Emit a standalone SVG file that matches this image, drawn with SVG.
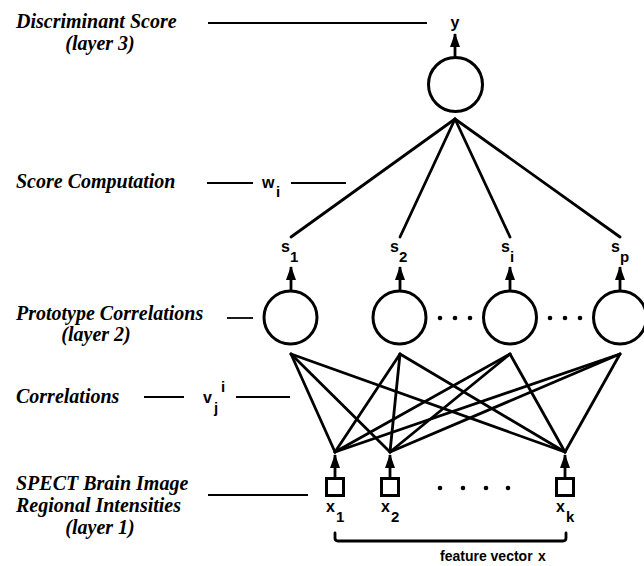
<svg xmlns="http://www.w3.org/2000/svg" width="644" height="566" viewBox="0 0 644 566">
<defs>
<style>
.lbl{font-family:"Liberation Serif","Times New Roman",serif;font-weight:bold;font-style:italic;font-size:20px;fill:#000}
.sym{font-family:"Liberation Sans",Arial,sans-serif;font-weight:bold;font-size:16px;fill:#000}
.sub{font-family:"Liberation Sans",Arial,sans-serif;font-weight:bold;font-size:15px;fill:#000}
.node{fill:none;stroke:#000;stroke-width:3}
.edge{stroke:#000;stroke-width:2.8;fill:none;stroke-linecap:round}
.arr{stroke:#000;stroke-width:2.8;fill:none;stroke-linecap:butt}
.guide{stroke:#000;stroke-width:1.8;fill:none}
.dot{fill:#000}
</style>
<marker id="ah" viewBox="0 0 14 10" refX="13" refY="5" markerWidth="14" markerHeight="10" markerUnits="userSpaceOnUse" orient="auto">
<path d="M0,0 L14,5 L0,10 Z" fill="#000"/>
</marker>
</defs>
<rect width="644" height="566" fill="#fff"/>

<g id="labels">
<text class="lbl" x="16" y="28">Discriminant Score</text>
<text class="lbl" x="100" y="50" text-anchor="middle">(layer 3)</text>
<text class="lbl" x="16" y="188">Score Computation</text>
<text class="lbl" x="16" y="320">Prototype Correlations</text>
<text class="lbl" x="96" y="341" text-anchor="middle">(layer 2)</text>
<text class="lbl" x="16" y="403">Correlations</text>
<text class="lbl" x="16" y="490">SPECT Brain Image</text>
<text class="lbl" x="16" y="512">Regional Intensities</text>
<text class="lbl" x="100" y="534" text-anchor="middle">(layer 1)</text>
</g>

<g id="guides">
<line class="guide" x1="208" y1="23" x2="427" y2="23"/>
<line class="guide" x1="207" y1="183" x2="253" y2="183"/>
<text class="sym" x="262" y="188">w</text><text class="sub" x="276" y="197">i</text>
<line class="guide" x1="291" y1="183" x2="346" y2="183"/>
<line class="guide" x1="227" y1="318" x2="253" y2="318"/>
<line class="guide" x1="144" y1="397" x2="184" y2="397"/>
<text class="sym" x="203" y="403">v</text><text class="sub" x="214" y="413">j</text><text class="sub" x="221" y="392">i</text>
<line class="guide" x1="236" y1="397" x2="290" y2="397"/>
<line class="guide" x1="208" y1="495" x2="308" y2="495"/>
</g>

<g id="node-out">
<circle class="node" cx="455.5" cy="84.5" r="27"/>
<text class="sym" x="455" y="28" text-anchor="middle">y</text>
</g>

<g id="node-s1">
<circle class="node" cx="290.5" cy="317.5" r="26.5"/>
<text class="sym" x="281" y="252">s</text><text class="sub" x="290" y="262">1</text>
</g>
<g id="node-s2">
<circle class="node" cx="399.5" cy="317.5" r="26.5"/>
<text class="sym" x="390" y="252">s</text><text class="sub" x="399" y="262">2</text>
</g>
<g id="node-si">
<circle class="node" cx="510" cy="317.5" r="26.5"/>
<text class="sym" x="501" y="252">s</text><text class="sub" x="510" y="262">i</text>
</g>
<g id="node-sp">
<circle class="node" cx="620" cy="317.5" r="26.5"/>
<text class="sym" x="611" y="252">s</text><text class="sub" x="620" y="262">p</text>
</g>
<g id="dots-layer2">
<circle class="dot" cx="440" cy="318" r="2.3"/><circle class="dot" cx="455" cy="318" r="2.3"/><circle class="dot" cx="470" cy="318" r="2.3"/>
<circle class="dot" cx="550" cy="318" r="2.3"/><circle class="dot" cx="565" cy="318" r="2.3"/><circle class="dot" cx="580" cy="318" r="2.3"/>
</g>

<g id="node-x1">
<rect class="node" x="326.5" y="478.5" width="17" height="17"/>
<text class="sym" x="326" y="512">x</text><text class="sub" x="336" y="522">1</text>
</g>
<g id="node-x2">
<rect class="node" x="381.5" y="478.5" width="17" height="17"/>
<text class="sym" x="381" y="512">x</text><text class="sub" x="391" y="522">2</text>
</g>
<g id="node-xk">
<rect class="node" x="556.5" y="478.5" width="17" height="17"/>
<text class="sym" x="556" y="512">x</text><text class="sub" x="566" y="522">k</text>
</g>
<g id="dots-layer1">
<circle class="dot" cx="440" cy="488" r="2.3"/><circle class="dot" cx="463" cy="488" r="2.3"/><circle class="dot" cx="486" cy="488" r="2.3"/><circle class="dot" cx="508" cy="488" r="2.3"/>
</g>

<g id="feature-vector">
<path class="edge" d="M335,533 V538 Q335,541 338,541 H563 Q566,541 566,538 V533"/>
<text class="sym" x="440" y="561" style="font-size:14px">feature vector</text>
<text class="sym" x="538" y="561" style="font-size:14px">x</text>
</g>

<g id="connectors">
<line class="arr" x1="455" y1="57" x2="455" y2="34" marker-end="url(#ah)"/>
<line class="arr" x1="291" y1="290" x2="291" y2="267" marker-end="url(#ah)"/>
<line class="arr" x1="400" y1="290" x2="400" y2="267" marker-end="url(#ah)"/>
<line class="arr" x1="510" y1="290" x2="510" y2="267" marker-end="url(#ah)"/>
<line class="arr" x1="620" y1="290" x2="620" y2="267" marker-end="url(#ah)"/>
<line class="arr" x1="335" y1="477" x2="335" y2="455" marker-end="url(#ah)"/>
<line class="arr" x1="390" y1="477" x2="390" y2="455" marker-end="url(#ah)"/>
<line class="arr" x1="565" y1="477" x2="565" y2="455" marker-end="url(#ah)"/>

<line class="edge" x1="455" y1="119" x2="291" y2="237"/>
<line class="edge" x1="455" y1="119" x2="400" y2="237"/>
<line class="edge" x1="455" y1="119" x2="510" y2="237"/>
<line class="edge" x1="455" y1="119" x2="620" y2="237"/>

<line class="edge" x1="291" y1="354" x2="335" y2="452"/>
<line class="edge" x1="291" y1="354" x2="390" y2="452"/>
<line class="edge" x1="291" y1="354" x2="565" y2="452"/>
<line class="edge" x1="400" y1="354" x2="335" y2="452"/>
<line class="edge" x1="400" y1="354" x2="390" y2="452"/>
<line class="edge" x1="400" y1="354" x2="565" y2="452"/>
<line class="edge" x1="510" y1="354" x2="335" y2="452"/>
<line class="edge" x1="510" y1="354" x2="390" y2="452"/>
<line class="edge" x1="510" y1="354" x2="565" y2="452"/>
<line class="edge" x1="620" y1="354" x2="335" y2="452"/>
<line class="edge" x1="620" y1="354" x2="390" y2="452"/>
<line class="edge" x1="620" y1="354" x2="565" y2="452"/>
</g>
</svg>
